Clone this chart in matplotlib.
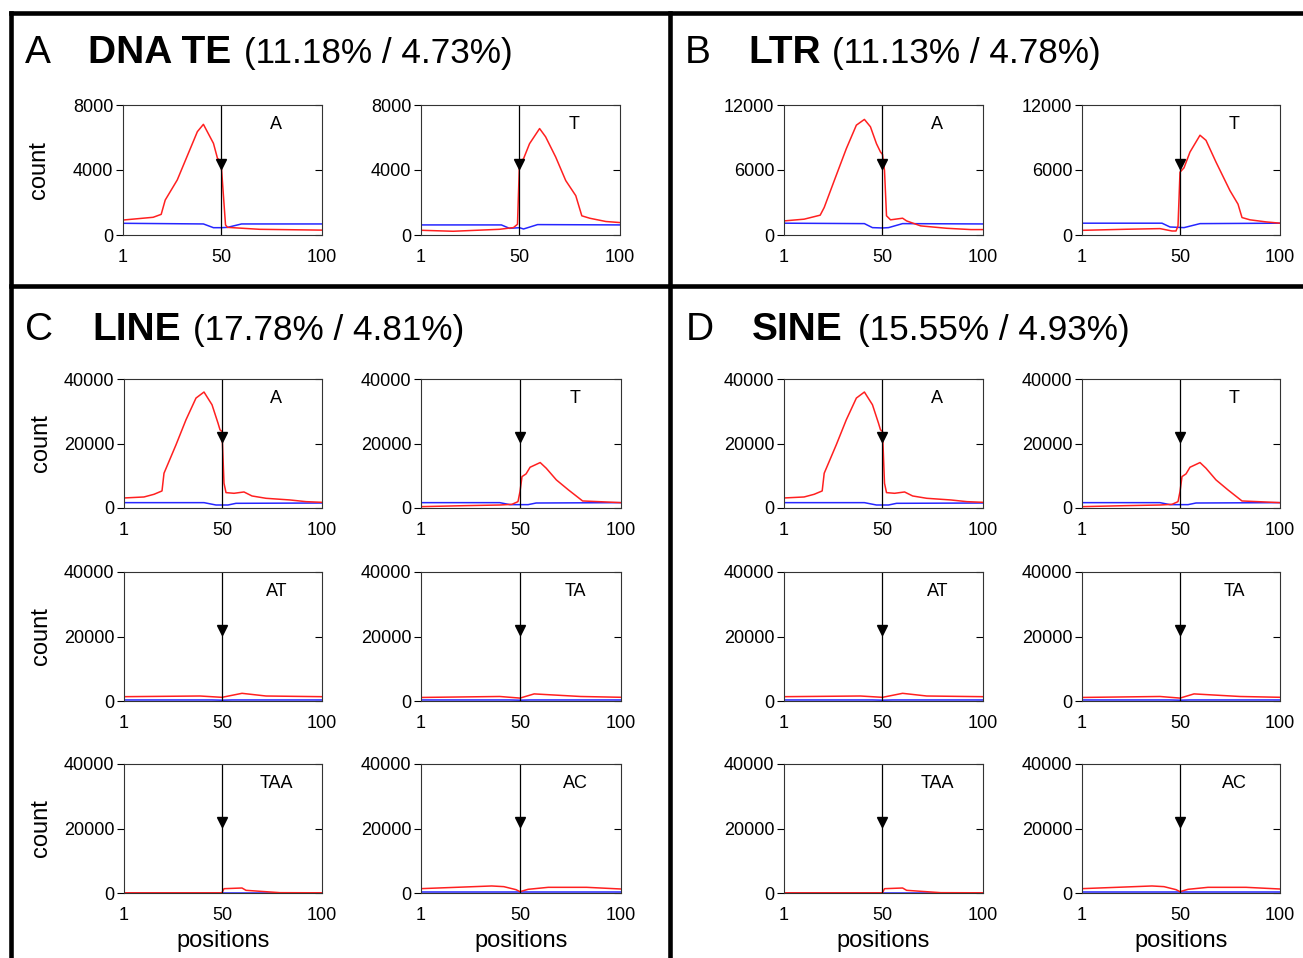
import matplotlib
matplotlib.use('Agg')
import matplotlib.pyplot as plt
import matplotlib.transforms as mtransforms
from matplotlib.lines import Line2D

plt.rcParams['font.family'] = ['Liberation Sans', 'DejaVu Sans']

W, H = 1303, 958

# ---- data (position, count) ----
# DNA TE
dna_a_rx = [1, 16, 20, 22, 28, 38, 41, 46, 48, 49, 50, 52, 53, 69, 100]
dna_a_ry = [920, 1090, 1270, 2150, 3390, 6360, 6810, 5640, 4720, 4610, 4100, 620, 470, 350, 300]
dna_a_bx = [1, 41, 46, 50, 53, 60, 100]
dna_a_by = [720, 680, 450, 450, 470, 680, 680]

dna_t_rx = [1, 17, 40, 47, 49, 50, 52, 53, 55, 60, 63, 68, 73, 78, 81, 85, 93, 100]
dna_t_ry = [290, 230, 350, 455, 660, 4490, 4690, 5000, 5620, 6550, 6040, 4800, 3350, 2420, 1180, 1030, 830, 765]
dna_t_bx = [1, 41, 45, 50, 52, 59, 100]
dna_t_by = [620, 620, 410, 450, 370, 640, 620]

# LTR
ltr_a_rx = [1, 11, 19, 21, 26, 32, 37, 41, 44, 47, 49, 50, 51, 52, 54, 60, 62, 69, 82, 94, 100]
ltr_a_ry = [1300, 1460, 1830, 2540, 5020, 7970, 10140, 10670, 9990, 8430, 7660, 7440, 5950, 1770, 1400, 1550, 1300, 840, 620, 500, 500]
ltr_a_bx = [1, 41, 45, 50, 53, 60, 100]
ltr_a_by = [1090, 1050, 680, 650, 680, 1050, 1020]

ltr_t_rx = [1, 23, 40, 46, 48, 49, 50, 52, 55, 60, 63, 68, 75, 79, 81, 85, 93, 100]
ltr_t_ry = [430, 530, 590, 370, 370, 840, 5800, 6200, 7660, 9210, 8740, 6730, 4090, 2850, 1610, 1400, 1210, 1090]
ltr_t_bx = [1, 41, 45, 52, 60, 100]
ltr_t_by = [1090, 1090, 740, 680, 1050, 1090]

# LINE
line_a_rx = [1, 11, 16, 20, 21, 27, 32, 37, 41, 45, 48, 49, 50, 51, 52, 56, 61, 65, 72, 84, 92, 100]
line_a_ry = [3110, 3420, 4250, 5290, 10780, 19590, 27360, 34090, 35960, 32020, 26320, 24250, 23730, 7670, 4770, 4560, 4970, 3730, 3010, 2490, 1970, 1760]
line_a_bx = [1, 41, 47, 53, 57, 100]
line_a_by = [1660, 1660, 930, 930, 1450, 1550]

line_t_rx = [1, 23, 40, 46, 49, 50, 51, 53, 55, 60, 63, 68, 74, 81, 89, 100]
line_t_ry = [420, 730, 930, 1140, 1970, 5080, 9740, 10570, 12640, 14090, 12330, 8710, 5600, 2180, 1970, 1660]
line_t_bx = [1, 40, 45, 54, 58, 100]
line_t_by = [1660, 1660, 1040, 1040, 1550, 1660]

line_at_rx = [1, 39, 50, 60, 72, 100]
line_at_ry = [1340, 1550, 1140, 2380, 1550, 1340]
line_at_bx = [1, 45, 50, 55, 100]
line_at_by = [320, 320, 250, 320, 320]

line_ta_rx = [1, 40, 50, 57, 80, 100]
line_ta_ry = [1100, 1400, 900, 2200, 1400, 1150]
line_ta_bx = [1, 45, 50, 55, 100]
line_ta_by = [320, 320, 250, 320, 320]

line_taa_rx = [1, 49, 50, 51, 60, 62, 79, 100]
line_taa_ry = [60, 60, 100, 1340, 1550, 830, 100, 60]
line_taa_bx = [1, 100]
line_taa_by = [50, 50]

line_ac_rx = [1, 23, 36, 42, 48, 50, 54, 64, 83, 100]
line_ac_ry = [1350, 1870, 2180, 1970, 1040, 410, 1140, 1760, 1760, 1240]
line_ac_bx = [1, 100]
line_ac_by = [300, 300]

# SINE
sine_a_rx = [1, 11, 16, 20, 21, 27, 32, 37, 41, 45, 48, 49, 50, 51, 52, 56, 61, 65, 72, 84, 92, 100]
sine_a_ry = [3110, 3420, 4250, 5290, 10780, 19590, 27360, 34090, 35960, 32020, 26320, 24250, 23730, 7670, 4770, 4560, 4970, 3730, 3010, 2490, 1970, 1760]
sine_a_bx = [1, 41, 47, 53, 57, 100]
sine_a_by = [1660, 1660, 930, 930, 1450, 1550]

sine_t_rx = [1, 23, 40, 46, 49, 50, 51, 53, 55, 60, 63, 68, 74, 81, 89, 100]
sine_t_ry = [420, 730, 930, 1140, 1970, 5080, 9740, 10570, 12640, 14090, 12330, 8710, 5600, 2180, 1970, 1660]
sine_t_bx = [1, 40, 45, 54, 58, 100]
sine_t_by = [1660, 1660, 1040, 1040, 1550, 1660]

sine_at_rx = [1, 39, 50, 60, 72, 100]
sine_at_ry = [1340, 1550, 1140, 2380, 1550, 1340]
sine_at_bx = [1, 45, 50, 55, 100]
sine_at_by = [320, 320, 250, 320, 320]

sine_ta_rx = [1, 40, 50, 57, 80, 100]
sine_ta_ry = [1100, 1400, 900, 2200, 1400, 1150]
sine_ta_bx = [1, 45, 50, 55, 100]
sine_ta_by = [320, 320, 250, 320, 320]

sine_taa_rx = [1, 49, 50, 51, 60, 62, 79, 100]
sine_taa_ry = [60, 60, 100, 1340, 1550, 830, 100, 60]
sine_taa_bx = [1, 100]
sine_taa_by = [50, 50]

sine_ac_rx = [1, 23, 36, 42, 48, 50, 54, 64, 83, 100]
sine_ac_ry = [1350, 1870, 2180, 1970, 1040, 410, 1140, 1760, 1760, 1240]
sine_ac_bx = [1, 100]
sine_ac_by = [300, 300]

x_ticks = [1, 50, 100]
titles = [('A', 'DNA TE', '(11.18% / 4.73%)'), ('B', 'LTR', '(11.13% / 4.78%)'),
          ('C', 'LINE', '(17.78% / 4.81%)'), ('D', 'SINE', '(15.55% / 4.93%)')]

fig = plt.figure(figsize=(W / 100, H / 100), dpi=100)


def px_axes(left, top, right, bottom):
    return fig.add_axes([left / W, 1 - bottom / H, (right - left) / W, (bottom - top) / H])


def draw(ax, rx, ry, bx, by, ymax, label, count=False, positions=False):
    ax.plot(bx, by, color='#2626ff', lw=1.1)
    ax.plot(rx, ry, color='#ff2020', lw=1.1)
    ax.axvline(50, color='black', lw=0.9)
    trans = mtransforms.blended_transform_factory(ax.transData, ax.transAxes)
    ax.plot([50], [0.55], marker='v', color='black', ms=7, transform=trans, clip_on=False)
    ax.set_xlim(1, 100)
    ax.set_ylim(0, ymax)
    ax.set_xticks(x_ticks)
    ax.set_yticks([0, ymax // 2, ymax])
    ax.tick_params(axis='x', length=0, pad=10, labelsize=13)
    ax.tick_params(axis='y', direction='out', length=5, width=0.8, pad=2, labelsize=13)
    sec = ax.secondary_yaxis('right')
    sec.set_yticks([0, ymax // 2, ymax])
    sec.tick_params(direction='in', length=5, width=0.8, labelright=False)
    sec.spines['right'].set_visible(False)
    for s in ax.spines.values():
        s.set_linewidth(0.8)
        s.set_color('#333333')
    ax.text(0.77, 0.85, label, transform=ax.transAxes, ha='center', va='center', fontsize=13)
    if count:
        ax.set_ylabel('count', fontsize=17)
        ax.yaxis.set_label_coords(-0.365, 0.5)
    if positions:
        ax.set_xlabel('positions', fontsize=17)
        ax.xaxis.set_label_coords(0.5, -0.29)


# top row: DNA TE and LTR
draw(px_axes(123, 105, 322, 235), dna_a_rx, dna_a_ry, dna_a_bx, dna_a_by, 8000, 'A', count=True)
draw(px_axes(421, 105, 620, 235), dna_t_rx, dna_t_ry, dna_t_bx, dna_t_by, 8000, 'T')
draw(px_axes(784, 105, 983, 235), ltr_a_rx, ltr_a_ry, ltr_a_bx, ltr_a_by, 12000, 'A')
draw(px_axes(1082, 105, 1280, 235), ltr_t_rx, ltr_t_ry, ltr_t_bx, ltr_t_by, 12000, 'T')

# lower part: LINE and SINE
rows = [(379, 508), (572, 701), (764, 893)]
line_sets = [
    [(line_a_rx, line_a_ry, line_a_bx, line_a_by, 'A'), (line_t_rx, line_t_ry, line_t_bx, line_t_by, 'T')],
    [(line_at_rx, line_at_ry, line_at_bx, line_at_by, 'AT'), (line_ta_rx, line_ta_ry, line_ta_bx, line_ta_by, 'TA')],
    [(line_taa_rx, line_taa_ry, line_taa_bx, line_taa_by, 'TAA'), (line_ac_rx, line_ac_ry, line_ac_bx, line_ac_by, 'AC')],
]
sine_sets = [
    [(sine_a_rx, sine_a_ry, sine_a_bx, sine_a_by, 'A'), (sine_t_rx, sine_t_ry, sine_t_bx, sine_t_by, 'T')],
    [(sine_at_rx, sine_at_ry, sine_at_bx, sine_at_by, 'AT'), (sine_ta_rx, sine_ta_ry, sine_ta_bx, sine_ta_by, 'TA')],
    [(sine_taa_rx, sine_taa_ry, sine_taa_bx, sine_taa_by, 'TAA'), (sine_ac_rx, sine_ac_ry, sine_ac_bx, sine_ac_by, 'AC')],
]
for i, (top, bottom) in enumerate(rows):
    last = i == 2
    for sets, cols in [(line_sets, [(124, 322), (421, 621)]), (sine_sets, [(784, 983), (1082, 1280)])]:
        for j, (l, r) in enumerate(cols):
            rx, ry, bx, by, lab = sets[i][j]
            draw(px_axes(l, top, r, bottom), rx, ry, bx, by, 40000, lab,
                 count=(j == 0 and sets is line_sets), positions=last)

# section titles
title_pos = [(25, 88, 244, 63), (685, 748, 832, 63), (25, 92, 193, 340), (686, 752, 858, 340)]
for (letter, name, pct), (x0, x1, x2, yb) in zip(titles, title_pos):
    fig.text(x0 / W, 1 - yb / H, letter, fontsize=28, va='baseline')
    fig.text(x1 / W, 1 - yb / H, name, fontsize=28, fontweight='bold', va='baseline')
    fig.text(x2 / W, 1 - yb / H, pct, fontsize=25.3, va='baseline')

# frame lines
frame = [((11, 13), (1303, 13)), ((11, 13), (11, 958)), ((670, 13), (670, 958)), ((11, 286), (1303, 286))]
for (xa, ya), (xb, yb) in frame:
    fig.add_artist(Line2D([xa / W, xb / W], [1 - ya / H, 1 - yb / H], color='black', lw=3.3,
                          solid_capstyle='projecting'))

fig.savefig('out.png', dpi=100)
